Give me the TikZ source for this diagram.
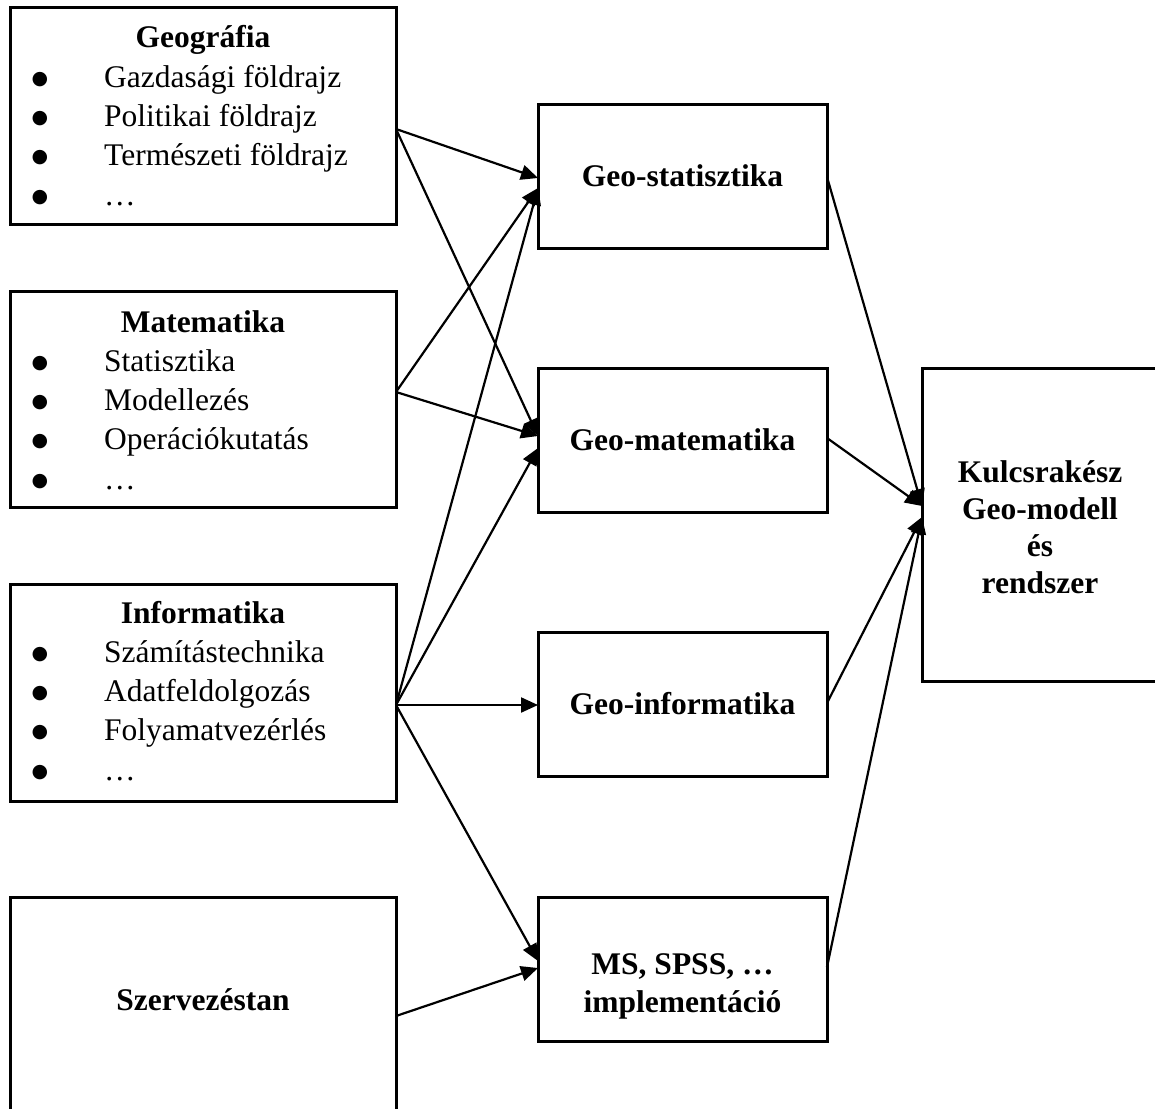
\documentclass[tikz,border=0pt]{standalone}
\usepackage{fontspec}
\setmainfont{Liberation Serif}
\newfontfamily\markfont{DejaVu Sans}
\usetikzlibrary{arrows.meta}
\begin{document}
\begin{tikzpicture}[x=1pt,y=-1pt,
  every node/.style={font=\fontsize{31.5}{39.2}\selectfont},
  box/.style={draw, line width=3pt, outer sep=0pt, inner sep=0pt, anchor=north west},
  leftbox/.style={box, minimum width=386pt},
  midbox/.style={box, minimum width=289pt, minimum height=144pt,
    font=\fontsize{31.5}{39.2}\selectfont\bfseries},
  head/.style={anchor=base, inner sep=0pt, font=\fontsize{31.5}{39.2}\selectfont\bfseries},
  itemtxt/.style={anchor=base west, inner sep=0pt},
  bul/.style={anchor=base, inner sep=0pt, font=\markfont\fontsize{19}{22}\selectfont},
  conn/.style={line width=2.2pt, -{Triangle[length=17pt,width=15pt]}}]

\useasboundingbox (0,0) rectangle (1155,1108);
\clip (0,0) rectangle (1155,1108);
\fill[white] (0,0) rectangle (1155,1108);

% bulleted list: name prefix, baseline of the heading, items
\newcommand{\bulletlist}[3]{%
  \foreach \t [count=\i] in {#3} {
    \node[bul] (#1b\i) at (40, {#2+39.3*\i-3}) {●};
    \node[itemtxt] (#1t\i) at (104, {#2+39.3*\i}) {\t};
  }}

% source disciplines
\node[leftbox, minimum height=216pt] (geo) at (10,8) {};
\node[head] (geoH) at (203,48) {Geográfia};
\bulletlist{geo}{48}{Gazdasági földrajz, Politikai földrajz, Természeti földrajz, …}

\node[leftbox, minimum height=216pt] (mat) at (10,291) {};
\node[head] (matH) at (203,332) {Matematika};
\bulletlist{mat}{332}{Statisztika, Modellezés, Operációkutatás, …}

\node[leftbox, minimum height=217pt] (inf) at (10,584) {};
\node[head] (infH) at (203,623) {Informatika};
\bulletlist{inf}{623}{Számítástechnika, Adatfeldolgozás, Folyamatvezérlés, …}

\node[leftbox, minimum height=250pt] (szerv) at (10,897) {};
\node[head] (szervH) at (203,1010) {Szervezéstan};

% combined fields
\node[midbox] (gstat) at (538,104) {Geo-statisztika};
\node[midbox] (gmat) at (538,368) {Geo-matematika};
\node[midbox] (ginf) at (538,632) {Geo-informatika};
\node[midbox] (ms) at (538,897) {};
\node[head] (msA) at (682.5,974) {MS, SPSS, …};
\node[head] (msB) at (682.5,1012) {implementáció};

% result
\node[box, minimum width=245pt, minimum height=313pt] (kulcs) at (922,368) {};
\node[head] (kA) at (1040,482) {Kulcsrakész};
\node[head] (kB) at (1040,519) {Geo-modell};
\node[head] (kC) at (1040,556) {és};
\node[head] (kD) at (1040,593) {rendszer};

% connectors into the combined fields
\draw[conn] ([yshift=-13pt]geo.east) -- ([yshift=-2pt]gstat.west);
\draw[conn] ([yshift=-13pt]geo.east) -- ([yshift=4pt]gmat.west);
\draw[conn] ([yshift=7pt]mat.east) -- ([yshift=-12pt]gstat.west);
\draw[conn] ([yshift=7pt]mat.east) -- ([yshift=4pt]gmat.west);
\draw[conn] ([yshift=-12.5pt]inf.east) -- ([yshift=-12pt]gstat.west);
\draw[conn] ([yshift=-12.5pt]inf.east) -- ([yshift=-8pt]gmat.west);
\draw[conn] ([yshift=-12.5pt]inf.east) -- ([yshift=-1pt]ginf.west);
\draw[conn] ([yshift=-12.5pt]inf.east) -- ([yshift=8pt]ms.west);
\draw[conn] ([yshift=-119pt]szerv.north east) -- ([yshift=1pt]ms.west);

% connectors into the result
\draw[conn] ([yshift=-1pt]gstat.east) -- ([yshift=18.5pt]kulcs.west);
\draw[conn] ([yshift=2pt]gmat.east) -- ([yshift=18.5pt]kulcs.west);
\draw[conn] ([yshift=1pt]ginf.east) -- ([yshift=7.5pt]kulcs.west);
\draw[conn] ([yshift=2pt]ms.east) -- ([yshift=7.5pt]kulcs.west);
\end{tikzpicture}
\end{document}
